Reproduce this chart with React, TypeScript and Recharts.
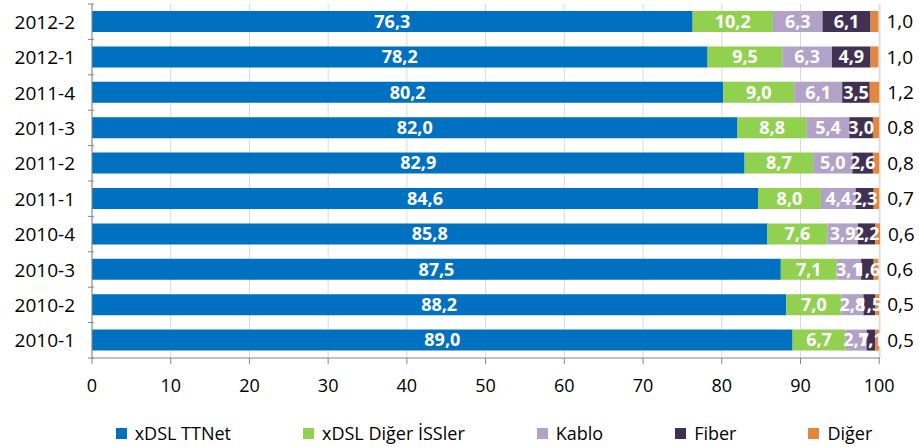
import React from "react";
import {
  BarChart,
  Bar,
  XAxis,
  YAxis,
  CartesianGrid,
  Legend,
  LabelList,
} from "recharts";

const categories = [
  "2012-2",
  "2012-1",
  "2011-4",
  "2011-3",
  "2011-2",
  "2011-1",
  "2010-4",
  "2010-3",
  "2010-2",
  "2010-1",
];
const xdslTTNet = [76.3, 78.2, 80.2, 82.0, 82.9, 84.6, 85.8, 87.5, 88.2, 89.0];
const xdslDiger = [10.2, 9.5, 9.0, 8.8, 8.7, 8.0, 7.6, 7.1, 7.0, 6.7];
const kablo = [6.3, 6.3, 6.1, 5.4, 5.0, 4.4, 3.9, 3.1, 2.8, 2.7];
const fiber = [6.1, 4.9, 3.5, 3.0, 2.6, 2.3, 2.2, 1.6, 1.5, 1.1];
const diger = [1.0, 1.0, 1.2, 0.8, 0.8, 0.7, 0.6, 0.6, 0.5, 0.5];
const xTicks = [0, 10, 20, 30, 40, 50, 60, 70, 80, 90, 100];

const seriesNames = ["xDSL TTNet", "xDSL Diğer İSSler", "Kablo", "Fiber", "Diğer"];
const seriesKeys = ["a", "b", "c", "d", "e"];
const colors = ["#0070C0", "#92D050", "#B3A2C7", "#403152", "#E2873F"];

const data = categories.map((c, i) => ({
  cat: c,
  a: xdslTTNet[i],
  b: xdslDiger[i],
  c: kablo[i],
  d: fiber[i],
  e: diger[i],
}));

const FONT = "'Open Sans', sans-serif";
const fmt = (v: any) => Number(v).toFixed(1).replace(".", ",");

const YTick = (props: any) => {
  const { x, y, payload, index } = props;
  const off = payload.offset || 17.7;
  const axisX = x + 10;
  return (
    <g>
      <text
        x={x - 9}
        y={y}
        textAnchor="end"
        dominantBaseline="central"
        fontFamily={FONT}
        fontSize={19}
        fill="#000"
      >
        {payload.value}
      </text>
      <line x1={axisX - 6} x2={axisX} y1={y - off} y2={y - off} stroke="#868686" />
      {index === categories.length - 1 && (
        <line x1={axisX - 6} x2={axisX} y1={y + off} y2={y + off} stroke="#868686" />
      )}
    </g>
  );
};

const LegendContent = () => (
  <div
    style={{
      display: "flex",
      justifyContent: "center",
      fontFamily: FONT,
      fontSize: 18,
      color: "#000",
      paddingLeft: 108,
      paddingTop: 13,
    }}
  >
    {seriesNames.map((n, i) => (
      <div
        key={n}
        style={{
          display: "flex",
          alignItems: "center",
          marginRight: i < seriesNames.length - 1 ? 72 : 0,
        }}
      >
        <span
          style={{
            display: "inline-block",
            width: 11,
            height: 11,
            background: colors[i],
            marginRight: 8,
          }}
        />
        <span>{n}</span>
      </div>
    ))}
  </div>
);

export default function App() {
  return (
    <div style={{ position: "absolute", left: 0, top: 0, background: "#fff" }}>
      <BarChart
        width={919}
        height={447}
        data={data}
        layout="vertical"
        margin={{ top: 4, right: 39, left: 0, bottom: 0 }}
        barSize={21}
      >
        <CartesianGrid horizontal={false} stroke="#D9D9D9" />
        <XAxis
          type="number"
          domain={[0, 100]}
          ticks={xTicks}
          interval={0}
          height={50}
          tickSize={6}
          tickMargin={15}
          stroke="#868686"
          tick={{ fill: "#000", fontFamily: FONT, fontSize: 18 }}
        />
        <YAxis
          type="category"
          dataKey="cat"
          width={92}
          tickLine={false}
          stroke="#868686"
          tick={<YTick />}
        />
        <Legend verticalAlign="bottom" height={39} content={<LegendContent />} />
        {seriesKeys.map((k, i) => (
          <Bar
            key={k}
            dataKey={k}
            name={seriesNames[i]}
            stackId="s"
            fill={colors[i]}
            barSize={21}
            isAnimationActive={false}
          >
            {i < 4 ? (
              <LabelList
                dataKey={k}
                position="center"
                formatter={fmt}
                fill="#fff"
                fontFamily={FONT}
                fontSize={18}
                fontWeight="bold"
              />
            ) : (
              <LabelList
                dataKey={k}
                position="right"
                offset={8}
                formatter={fmt}
                fill="#000"
                fontFamily={FONT}
                fontSize={19}
              />
            )}
          </Bar>
        ))}
      </BarChart>
    </div>
  );
}
